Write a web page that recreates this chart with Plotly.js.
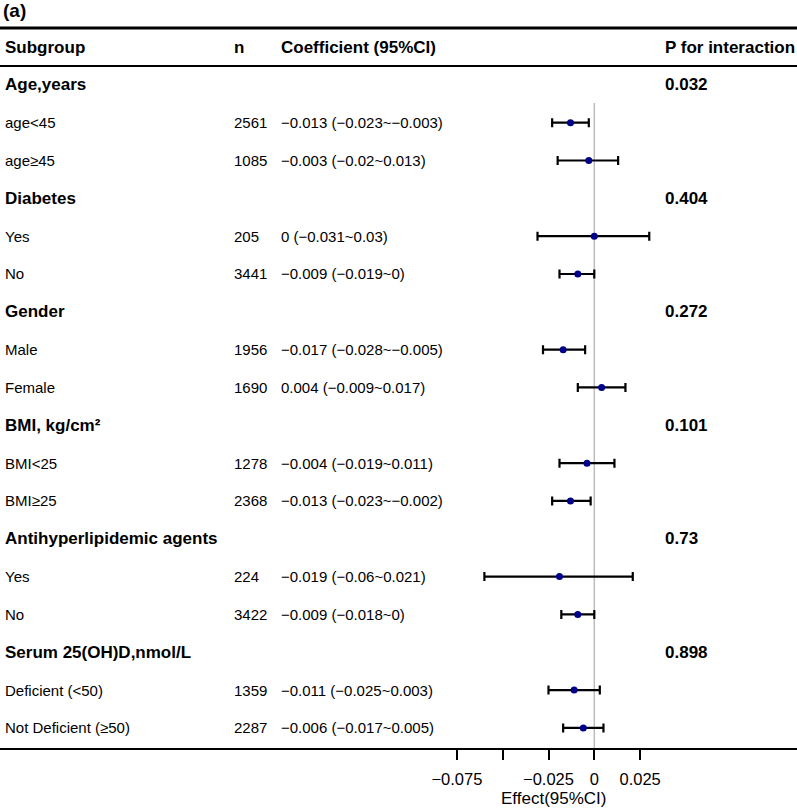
<!DOCTYPE html>
<html>
<head>
<meta charset="utf-8">
<script src="https://cdn.plot.ly/plotly-3.0.1.min.js"></script>
<style>
html,body{margin:0;padding:0;background:#fff;}
#chart{width:797px;height:809px;}
</style>
</head>
<body>
<div id="chart"></div>
<script>
// ---- data ----
const groupNames = ["Age,years", "Diabetes", "Gender", "BMI, kg/cm²", "Antihyperlipidemic agents", "Serum 25(OH)D,nmol/L"];
const groupP = ["0.032", "0.404", "0.272", "0.101", "0.73", "0.898"];
const subgroupLabels = [
  ["age<45", "age≥45"],
  ["Yes", "No"],
  ["Male", "Female"],
  ["BMI<25", "BMI≥25"],
  ["Yes", "No"],
  ["Deficient (<50)", "Not Deficient (≥50)"]
];
const subgroupN = [[2561, 1085], [205, 3441], [1956, 1690], [1278, 2368], [224, 3422], [1359, 2287]];
const estimate = [[-0.013, -0.003], [0, -0.009], [-0.017, 0.004], [-0.004, -0.013], [-0.019, -0.009], [-0.011, -0.006]];
const lower = [[-0.023, -0.02], [-0.031, -0.019], [-0.028, -0.009], [-0.019, -0.023], [-0.06, -0.018], [-0.025, -0.017]];
const upper = [[-0.003, 0.013], [0.03, 0], [-0.005, 0.017], [0.011, -0.002], [0.021, 0], [0.003, 0.005]];
const headers = ["Subgroup", "n", "Coefficient (95%CI)", "P for interaction"];
const tickVals = [-0.075, -0.05, -0.025, 0, 0.025];
const tickText = ["−0.075", "", "−0.025", "0", "0.025"];
const panelLabel = "(a)";
const xTitle = "Effect(95%CI)";

// ---- layout helpers ----
const W = 797, H = 809, plotH = 748;
const colX = [3, 232, 279, 663];
const esc = s => String(s).replace(/&/g, "&amp;").replace(/</g, "&lt;").replace(/>/g, "&gt;");
const fmt = v => String(v).replace("-", "−");
const FONT = "Liberation Sans, Arial, sans-serif";
const boldF = {family: FONT, size: 17, color: "#000", weight: 700};
const regF = {family: FONT, size: 15, color: "#000"};

const annotations = [];
function addText(col, row, text, font) {
  annotations.push({
    xref: "paper", yref: "y", x: colX[col] / W, y: row,
    xanchor: "left", yanchor: "middle", showarrow: false,
    text: text, font: font
  });
}
headers.forEach((h, i) => addText(i, 0, "<b>" + esc(h) + "</b>", boldF));

const ptX = [], ptY = [], errPlus = [], errMinus = [];
let row = 1;
groupNames.forEach((g, gi) => {
  addText(0, row, "<b>" + esc(g) + "</b>", boldF);
  addText(3, row, "<b>" + esc(groupP[gi]) + "</b>", boldF);
  row++;
  subgroupLabels[gi].forEach((lab, si) => {
    const e = estimate[gi][si], lo = lower[gi][si], hi = upper[gi][si];
    addText(0, row, esc(lab), regF);
    addText(1, row, String(subgroupN[gi][si]), regF);
    addText(2, row, esc(fmt(e) + " (" + fmt(lo) + "~" + fmt(hi) + ")"), regF);
    ptX.push(e); ptY.push(row);
    errPlus.push(+(hi - e).toFixed(6)); errMinus.push(+(e - lo).toFixed(6));
    row++;
  });
});

// panel label and x title
annotations.push({xref: "paper", yref: "paper", x: 1 / W, y: 1 - 10 / plotH, xanchor: "left", yanchor: "middle",
  showarrow: false, text: "<b>" + panelLabel + "</b>", font: {family: FONT, size: 19, color: "#000", weight: 700}});
annotations.push({xref: "paper", yref: "paper", x: 553.5 / W, y: -(798 - plotH) / plotH, xanchor: "center", yanchor: "middle",
  showarrow: false, text: xTitle, font: {family: FONT, size: 17, color: "#000"}});

// pixel mapping: row i -> 47 + 37.83 i ; zero -> 594.3 px, 1832 px/unit
const rowPx = 37.83, row0 = 47;
const yTop = -row0 / rowPx, yBot = (plotH - row0) / rowPx;
const xPerPx = 1 / 1832, x0px = 594.3;

const trace = {
  type: "scatter", mode: "markers", x: ptX, y: ptY, cliponaxis: false,
  marker: {color: "#00008B", size: 7},
  error_x: {type: "data", symmetric: false, array: errPlus, arrayminus: errMinus,
            color: "#000", thickness: 2.2, width: 4.5},
  hoverinfo: "skip", showlegend: false
};

const layout = {
  width: W, height: H,
  margin: {l: 0, r: 0, t: 0, b: H - plotH, pad: 0},
  paper_bgcolor: "#fff", plot_bgcolor: "#fff",
  showlegend: false,
  xaxis: {
    range: [-x0px * xPerPx, (W - x0px) * xPerPx],
    tickmode: "array", tickvals: tickVals, ticktext: tickText,
    ticks: "outside", ticklen: 10, tickwidth: 2, tickcolor: "#000",
    ticklabelstandoff: 5,
    showline: true, linewidth: 2, linecolor: "#000",
    showgrid: false, zeroline: false, fixedrange: true,
    tickfont: {family: FONT, size: 16.5, color: "#000"}
  },
  yaxis: {range: [yBot, yTop], visible: false, showgrid: false, zeroline: false, fixedrange: true},
  shapes: [
    {type: "line", xref: "paper", yref: "y", x0: 0, x1: 1, y0: -0.5, y1: -0.5, line: {color: "#000", width: 3}},
    {type: "line", xref: "paper", yref: "y", x0: 0, x1: 1, y0: 0.5, y1: 0.5, line: {color: "#000", width: 2}},
    {type: "line", xref: "x", yref: "y", x0: 0, x1: 0, y0: 1.48, y1: yBot, layer: "below", line: {color: "#bdbdbd", width: 1.5}}
  ],
  annotations: annotations
};

Plotly.newPlot("chart", [trace], layout, {displayModeBar: false, staticPlot: true});
</script>
</body>
</html>
